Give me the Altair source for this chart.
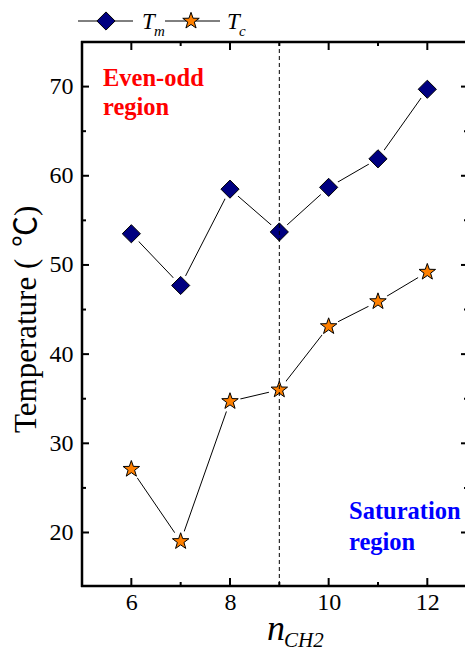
import altair as alt
import pandas as pd

# ---------------- data ----------------
n_ch2 = [6, 7, 8, 9, 10, 11, 12]
t_m = [53.5, 47.7, 58.5, 53.7, 58.7, 61.9, 69.7]
t_c = [27.1, 19.0, 34.7, 36.0, 43.1, 45.9, 49.2]
x_major = [6, 8, 10, 12]
x_minor = [7, 9, 11]
y_major = [20, 30, 40, 50, 60, 70]
y_minor = [25, 35, 45, 55, 65]
divider = [9]
left_note = ["Even-odd", "region"]
right_note = ["Saturation", "region"]
y_title = ["Temperature (", "\u2103", ")"]
x_title = ["n", "CH2"]
legend_names = ["T", "m", "T", "c"]

# ---------------- layout / style ----------------
W, H = 383, 544
SERIF = "Liberation Serif"
CJK = "Noto Sans CJK SC"
STAR = ("M0,-1L0.235,-0.324L0.951,-0.309L0.380,0.124L0.588,0.809L0,0.4"
        "L-0.588,0.809L-0.380,0.124L-0.951,-0.309L-0.235,-0.324Z")

xs = alt.Scale(domain=[5, 12.764], nice=False, zero=False)
ys = alt.Scale(domain=[14, 75], nice=False, zero=False)

x_axis = alt.Axis(values=x_major, ticks=False, domain=False, grid=False,
                  labelFont=SERIF, labelFontSize=24, labelColor="black",
                  labelPadding=4, title=None, format="d")
y_axis = alt.Axis(values=y_major, ticks=False, domain=False, grid=False,
                  labelFont=SERIF, labelFontSize=24, labelColor="black",
                  labelPadding=9, title=None, format="d")


def X(f):
    return alt.X(f, scale=xs, axis=x_axis)


def Y(f):
    return alt.Y(f, scale=ys, axis=y_axis)


dm = pd.DataFrame({"n": n_ch2, "T": t_m})
dc = pd.DataFrame({"n": n_ch2, "T": t_c})
dboth = pd.concat([dm, dc])

layers = []

# connecting lines
for d in (dm, dc):
    layers.append(alt.Chart(d).mark_line(color="black", strokeWidth=1)
                  .encode(x=X("n:Q"), y=Y("T:Q")))

# white halos (gap of line around markers)
layers.append(alt.Chart(dboth).mark_point(shape="circle", filled=True, fill="white",
                                          strokeWidth=0, size=460, opacity=1)
              .encode(x=X("n:Q"), y=Y("T:Q")))

# markers
layers.append(alt.Chart(dm).mark_point(shape="diamond", filled=True, fill="#000080",
                                       stroke="black", strokeWidth=1, size=330, opacity=1)
              .encode(x=X("n:Q"), y=Y("T:Q")))
layers.append(alt.Chart(dc).mark_point(shape=STAR, filled=True, fill="#FF8000",
                                       stroke="black", strokeWidth=1, size=300, opacity=1)
              .encode(x=X("n:Q"), y=Y("T:Q")))

# frame (left, top, bottom) and inward ticks
one = pd.DataFrame({"k": [0]})
frame = dict(color="black", strokeWidth=2.5)
layers += [
    alt.Chart(one).mark_rule(**frame).encode(x=alt.value(0), y=alt.value(-1), y2=alt.value(H + 1)),
    alt.Chart(one).mark_rule(**frame).encode(y=alt.value(0), x=alt.value(-1), x2=alt.value(W)),
    alt.Chart(one).mark_rule(**frame).encode(y=alt.value(H), x=alt.value(-1), x2=alt.value(W)),
]
ymaj = pd.DataFrame({"v": y_major})
ymin = pd.DataFrame({"v": y_minor})
xmaj = pd.DataFrame({"v": x_major})
xmin = pd.DataFrame({"v": x_minor})
tick = dict(color="black", strokeWidth=2)
layers += [
    alt.Chart(ymaj).mark_rule(**tick).encode(y=Y("v:Q"), x=alt.value(0), x2=alt.value(7)),
    alt.Chart(ymin).mark_rule(**tick).encode(y=Y("v:Q"), x=alt.value(0), x2=alt.value(4)),
    alt.Chart(ymaj).mark_rule(**tick).encode(y=Y("v:Q"), x=alt.value(W - 4), x2=alt.value(W)),
    alt.Chart(ymin).mark_rule(**tick).encode(y=Y("v:Q"), x=alt.value(W - 1), x2=alt.value(W)),
    alt.Chart(xmaj).mark_rule(**tick).encode(x=X("v:Q"), y=alt.value(H), y2=alt.value(H - 8)),
    alt.Chart(xmin).mark_rule(**tick).encode(x=X("v:Q"), y=alt.value(H), y2=alt.value(H - 4)),
    alt.Chart(xmaj).mark_rule(**tick).encode(x=X("v:Q"), y=alt.value(0), y2=alt.value(8)),
    alt.Chart(xmin).mark_rule(**tick).encode(x=X("v:Q"), y=alt.value(0), y2=alt.value(4)),
]

# dashed divider
layers.append(alt.Chart(pd.DataFrame({"v": divider}))
              .mark_rule(color="black", strokeWidth=1, strokeDash=[4, 3])
              .encode(x=X("v:Q"), y=alt.value(0), y2=alt.value(H)))


def label(text, x, y, **kw):
    return (alt.Chart(pd.DataFrame({"t": [text]}))
            .mark_text(baseline="alphabetic", **kw)
            .encode(text="t:N", x=alt.value(x), y=alt.value(y)))


note = dict(font=SERIF, fontSize=24.5, fontWeight="bold", align="left")
ytl = dict(fontSize=31, angle=270, align="left", color="black")
layers += [
    label(left_note[0], 21, 44, color="#FF0000", **note),
    label(left_note[1], 21, 73, color="#FF0000", **note),
    label(right_note[0], 267, 477, color="#0000FF", **note),
    label(right_note[1], 267, 508, color="#0000FF", **note),
    # y axis title (three runs so the degree-Celsius sign is compact)
    label(y_title[0], -46, 391, font=SERIF, **ytl),
    label(y_title[1], -46, 205, font=CJK, **ytl),
    label(y_title[2], -46, 174, font=SERIF, **ytl),
    # x axis title
    label(x_title[0], 185, 598, font=SERIF, fontSize=36, fontStyle="italic",
          align="left", color="black"),
    label(x_title[1], 202, 605, font=SERIF, fontSize=21, fontStyle="italic",
          align="left", color="black"),
]

# legend
LY = -21
leg_line = dict(color="black", strokeWidth=1)
layers += [
    alt.Chart(one).mark_rule(**leg_line).encode(x=alt.value(-4), x2=alt.value(51), y=alt.value(LY)),
    alt.Chart(one).mark_point(shape="diamond", filled=True, fill="#000080", stroke="black",
                              strokeWidth=1, size=330, opacity=1)
    .encode(x=alt.value(24), y=alt.value(LY)),
    alt.Chart(one).mark_rule(**leg_line).encode(x=alt.value(83), x2=alt.value(138), y=alt.value(LY)),
    alt.Chart(one).mark_point(shape=STAR, filled=True, fill="#FF8000", stroke="black",
                              strokeWidth=1, size=300, opacity=1)
    .encode(x=alt.value(109), y=alt.value(LY)),
    label(legend_names[0], 60, LY + 8, font=SERIF, fontSize=23, fontStyle="italic",
          align="left", color="black"),
    label(legend_names[1], 72, LY + 15, font=SERIF, fontSize=15, fontStyle="italic",
          align="left", color="black"),
    label(legend_names[2], 145, LY + 8, font=SERIF, fontSize=23, fontStyle="italic",
          align="left", color="black"),
    label(legend_names[3], 157, LY + 15, font=SERIF, fontSize=15, fontStyle="italic",
          align="left", color="black"),
]

chart = (alt.layer(*layers)
         .properties(width=W, height=H,
                     padding={"left": 74, "top": 34, "right": 0, "bottom": 68},
                     autosize=alt.AutoSizeParams(type="none"))
         .configure_view(stroke=None))

chart.save("out.html", embed_options={"renderer": "svg", "actions": False})
